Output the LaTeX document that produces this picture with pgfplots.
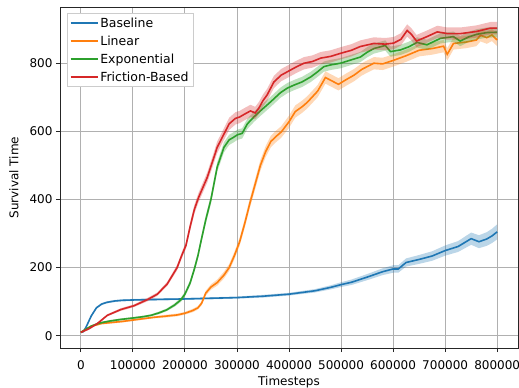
\documentclass[border=0pt]{standalone}
\usepackage{fontspec}
\setmainfont{DejaVu Sans}
\usepackage{pgfplots}
\usepackage{pgfplotstable}
\pgfplotsset{compat=1.18}
\usetikzlibrary{calc}
\definecolor{C0}{HTML}{1F77B4}
\definecolor{C1}{HTML}{FF7F0E}
\definecolor{C2}{HTML}{2CA02C}
\definecolor{C3}{HTML}{D62728}
\pgfplotstableread{
x y e
0 10 2
5000 12 2
10000 25 2
20000 58 3
30000 82 3
40000 93 3
50000 98 3
65000 102 3
80000 104 3
100000 105 3
130000 106 3
160000 107 3
200000 108 3
250000 110 3
300000 112 3
350000 116 4
400000 122 4
450000 132 5
480000 142 6
500000 150 7
520000 157 8
550000 172 9
580000 188 10
600000 196 11
610000 196 11
625000 215 12
650000 224 13
675000 234 14
700000 250 15
725000 262 16
750000 285 18
765000 276 19
780000 284 20
790000 293 21
800000 305 22
}\tabB
\pgfplotstableread{
x y e
0 10 2
20000 28 3
40000 36 3
60000 39 3
80000 42 3
100000 46 3
120000 50 3
140000 54 3
160000 57 4
185000 61 4
200000 66 4
215000 74 5
225000 82 5
232000 95 6
240000 125 7
250000 143 8
262000 156 9
275000 178 10
285000 200 10
295000 235 11
305000 275 12
315000 330 13
325000 390 14
335000 445 15
345000 500 16
355000 540 16
365000 570 17
375000 585 17
385000 598 17
400000 628 18
412000 658 18
425000 672 18
435000 685 18
455000 718 18
470000 758 18
480000 750 18
495000 738 18
510000 752 18
525000 765 18
540000 782 18
563000 800 18
580000 798 18
600000 808 18
625000 822 18
650000 838 18
675000 843 18
697000 850 18
704000 826 18
716000 858 18
740000 862 18
760000 868 18
768000 882 18
780000 875 18
790000 883 18
800000 868 18
}\tabL
\pgfplotstableread{
x y e
0 10 2
20000 28 3
35000 37 3
55000 43 3
77000 48 3
100000 52 3
120000 56 3
135000 60 3
150000 67 4
165000 76 4
180000 90 5
192000 105 6
200000 122 7
210000 155 8
218000 195 9
225000 235 10
232000 285 11
240000 340 12
250000 400 13
262000 495 14
275000 553 15
285000 575 15
293000 582 15
301000 590 15
310000 594 15
320000 622 15
333000 643 15
345000 660 15
365000 687 15
384000 714 15
397000 727 15
410000 736 15
425000 745 15
442000 760 15
455000 775 15
467000 790 15
480000 795 15
499000 800 15
520000 810 15
537000 818 15
550000 832 15
563000 843 15
585000 852 15
595000 834 15
614000 839 15
630000 848 15
646000 861 15
665000 854 15
691000 873 15
716000 878 15
729000 865 15
745000 877 15
761000 885 15
781000 890 15
800000 891 15
}\tabE
\pgfplotstableread{
x y e
0 10 2
15000 20 3
32000 36 3
51000 60 3
77000 77 4
102000 88 4
128000 106 5
147000 122 5
166000 152 6
185000 200 8
195000 240 9
202000 265 10
210000 320 12
218000 370 13
226000 405 14
243000 465 15
255000 520 16
262000 553 17
275000 592 17
285000 622 18
297000 638 18
305000 642 18
314000 650 18
326000 660 18
335000 654 18
342000 668 18
350000 690 18
358000 707 18
371000 745 18
385000 765 18
397000 775 18
415000 790 18
429000 800 18
445000 805 18
461000 815 18
480000 820 18
499000 829 18
520000 838 18
537000 849 18
563000 858 18
585000 856 18
601000 859 18
615000 870 18
627000 896 18
635000 885 18
645000 865 18
665000 878 18
685000 892 18
704000 887 18
730000 887 18
760000 893 18
787000 903 18
800000 903 18
}\tabF
% band polygons: upper edge forward, lower edge backward
\newcommand{\makeband}[2]{%
  \pgfplotstablesort[sort key=x, sort cmp=float <]{#1}{#2}%
  \pgfplotstablesort[sort key=x, sort cmp=float >]{\tmplow}{#2}%
  \pgfplotstablecreatecol[create col/expr={\thisrow{y}+\thisrow{e}}]{b}{#1}%
  \pgfplotstablecreatecol[create col/expr={\thisrow{y}-\thisrow{e}}]{b}{\tmplow}%
  \pgfplotstablevertcat{#1}{\tmplow}%
}
\makeband{\bandB}{\tabB}
\makeband{\bandL}{\tabL}
\makeband{\bandE}{\tabE}
\makeband{\bandF}{\tabF}
\begin{document}
\begin{tikzpicture}
\begin{axis}[
  scale only axis, width=458pt, height=341pt,
  xmin=-40000, xmax=840000, ymin=-36, ymax=965,
  xtick={0,100000,...,800000}, ytick={0,200,400,600,800},
  scaled x ticks=false,
  x tick label style={/pgf/number format/fixed,/pgf/number format/1000 sep={}, yshift=-5pt},
  /pgf/number format/assume math mode=true,
  tick label style={font=\fontsize{12}{14}\selectfont},
  label style={font=\fontsize{12}{14}\selectfont},
  xlabel={Timesteps}, ylabel={Survival Time},
  xlabel style={at={(axis description cs:0.5,0)}, anchor=center, yshift=-34pt},
  ylabel style={at={(axis description cs:0,0.5)}, anchor=center, yshift=46pt},
  grid=major, grid style={color=black!31, line width=0.9pt},
  axis line style={black!85, line width=0.9pt},
  tick align=outside, major tick length=4pt, tick style={black!85, line width=0.9pt},
  xtick pos=bottom, ytick pos=left,
  legend style={at={(0,1)}, anchor=north west, xshift=6.5pt, yshift=-6.5pt,
    draw=black!20, fill=white, font=\fontsize{12.5}{14}\selectfont,
    row sep=3pt, /tikz/column 2/.style={column sep=5pt}},
  legend cell align=left,
  legend image code/.code={\draw[#1] plot coordinates {(0pt,0pt) (27pt,0pt)};},
]
% Baseline
\addplot[fill=C0, fill opacity=0.3, draw=none, forget plot] table[x=x, y=b] {\bandB};
\addplot[C0, line width=1.6pt] table[x=x, y=y] {\tabB};
\addlegendentry{Baseline}
% Linear
\addplot[fill=C1, fill opacity=0.3, draw=none, forget plot] table[x=x, y=b] {\bandL};
\addplot[C1, line width=1.6pt] table[x=x, y=y] {\tabL};
\addlegendentry{Linear}
% Exponential
\addplot[fill=C2, fill opacity=0.3, draw=none, forget plot] table[x=x, y=b] {\bandE};
\addplot[C2, line width=1.6pt] table[x=x, y=y] {\tabE};
\addlegendentry{Exponential}
% Friction-Based
\addplot[fill=C3, fill opacity=0.3, draw=none, forget plot] table[x=x, y=b] {\bandF};
\addplot[C3, line width=1.6pt] table[x=x, y=y] {\tabF};
\addlegendentry{Friction-Based}
\end{axis}
\pgfresetboundingbox
\path ($(current axis.south west)+(-60pt,-39pt)$) rectangle ($(current axis.north east)+(1pt,7pt)$);
\end{tikzpicture}
\end{document}
